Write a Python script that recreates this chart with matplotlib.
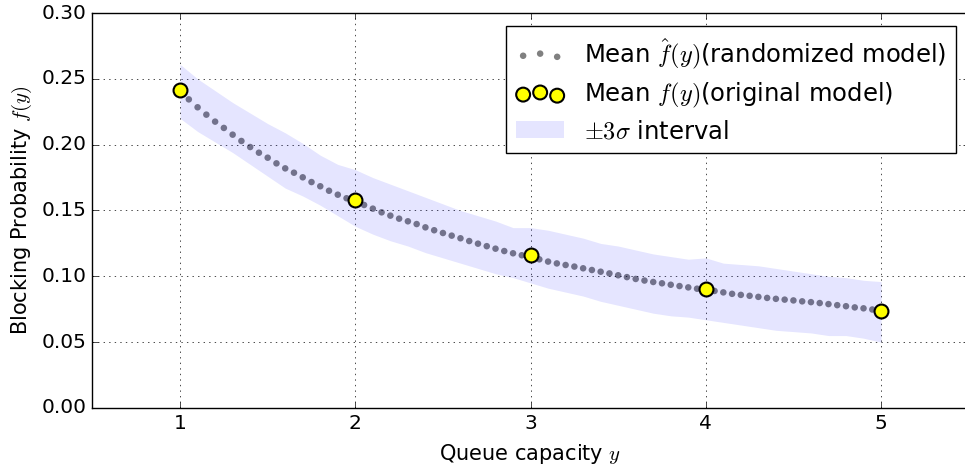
import numpy as np
import matplotlib
matplotlib.use("Agg")
from matplotlib import pyplot as plt

plt.style.use("classic")
plt.rcParams['figure.facecolor'] = 'white'
plt.rcParams['savefig.facecolor'] = 'white'

# queue capacities of the original model
capacity = [1, 2, 3, 4, 5]
mean_original = [0.2415, 0.1580, 0.1162, 0.0904, 0.0738]

# randomized model, capacity grid of 0.05
capacity_fine = np.linspace(1, 5, 81)
mean_randomized = [
    0.2413, 0.2344, 0.2284, 0.2228, 0.2175, 0.2127, 0.2076, 0.2028, 0.1982, 0.1939,
    0.1901, 0.1858, 0.1820, 0.1787, 0.1752, 0.1716, 0.1684, 0.1650, 0.1620, 0.1593,
    0.1575, 0.1542, 0.1514, 0.1486, 0.1461, 0.1438, 0.1418, 0.1397, 0.1372, 0.1350,
    0.1329, 0.1309, 0.1289, 0.1268, 0.1248, 0.1229, 0.1210, 0.1192, 0.1175, 0.1160,
    0.1152, 0.1129, 0.1112, 0.1098, 0.1086, 0.1074, 0.1061, 0.1048, 0.1035, 0.1022,
    0.1008, 0.0994, 0.0980, 0.0968, 0.0957, 0.0947, 0.0936, 0.0926, 0.0916, 0.0906,
    0.0900, 0.0889, 0.0878, 0.0867, 0.0859, 0.0852, 0.0844, 0.0836, 0.0829, 0.0823,
    0.0817, 0.0810, 0.0804, 0.0797, 0.0789, 0.0781, 0.0773, 0.0764, 0.0757, 0.0748,
    0.0740,
]

# +-3 sigma band, capacity grid of 0.1
capacity_band = np.linspace(1, 5, 41)
band_upper = [
    0.261, 0.250, 0.241, 0.232, 0.224, 0.216, 0.209, 0.201, 0.192, 0.185,
    0.181, 0.175, 0.170, 0.165, 0.160, 0.155, 0.150, 0.146, 0.142, 0.137,
    0.137, 0.135, 0.132, 0.129, 0.125, 0.123, 0.120, 0.117, 0.115, 0.113,
    0.114, 0.110, 0.109, 0.108, 0.106, 0.104, 0.102, 0.100, 0.099, 0.097,
    0.096,
]
band_lower = [
    0.220, 0.210, 0.202, 0.194, 0.185, 0.176, 0.167, 0.161, 0.154, 0.146,
    0.138, 0.132, 0.127, 0.123, 0.118, 0.114, 0.110, 0.106, 0.102, 0.099,
    0.095, 0.091, 0.088, 0.085, 0.081, 0.078, 0.075, 0.072, 0.070, 0.069,
    0.067, 0.065, 0.063, 0.061, 0.059, 0.058, 0.057, 0.055, 0.055, 0.053,
    0.050,
]

fig = plt.figure(figsize=(9.65, 4.66), dpi=100)
ax = fig.add_axes([0.0958, 0.1245, 0.908, 0.8476])

ax.scatter(capacity_fine, mean_randomized, s=22, color='gray', edgecolor='none',
           label=r'Mean $\hat{f}(y)$(randomized model)', zorder=2)
ax.scatter(capacity, mean_original, s=100, color='yellow', edgecolor='black',
           linewidth=1.5, label=r'Mean $f(y)$(original model)', zorder=4)
ax.fill_between(capacity_band, band_lower, band_upper, color='blue', alpha=0.1,
                linewidth=0, label=r'$\pm 3\sigma$ interval', zorder=3)

ax.set_xlim(0.5, 5.5)
ax.set_ylim(0, 0.30)
ax.set_xticks([1, 2, 3, 4, 5])
ax.set_yticks(np.arange(0, 0.31, 0.05))
ax.yaxis.set_major_formatter(matplotlib.ticker.FormatStrFormatter('%.2f'))
ax.tick_params(labelsize=14.5)
ax.grid(True)

ax.set_xlabel(r'Queue capacity $y$', fontsize=15)
ax.set_ylabel(r'Blocking Probability $f(y)$', fontsize=15)
ax.xaxis.set_label_coords(0.5, -0.087)
ax.yaxis.set_label_coords(-0.067, 0.5)

ax.legend(loc='upper right', bbox_to_anchor=(956 / 965, 1 - 26 / 466),
          bbox_transform=fig.transFigure, borderaxespad=0, fontsize=17.5,
          scatterpoints=3, labelspacing=0.4)

fig.savefig("out.png", dpi=100)
